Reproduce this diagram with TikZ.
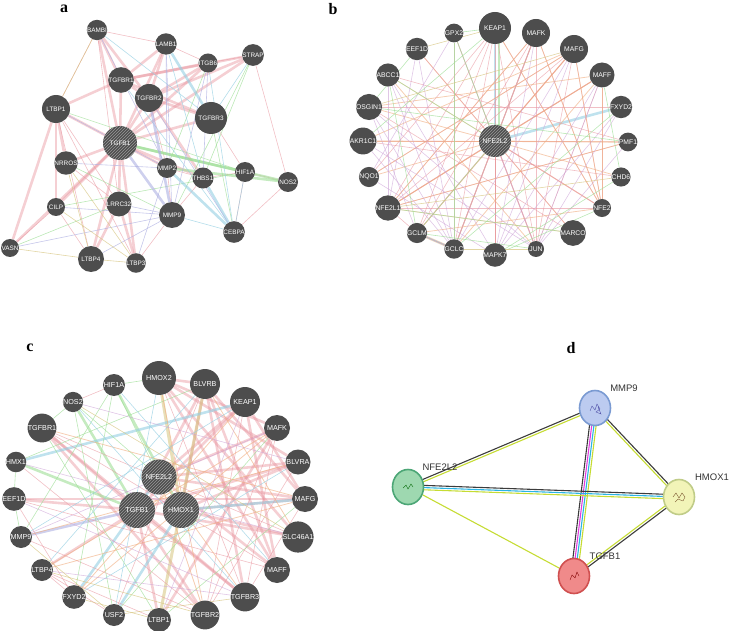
\documentclass[tikz,border=0pt]{standalone}
\usepackage{fontspec}
\setmainfont{Liberation Serif}
\setsansfont{Liberation Sans}
\usetikzlibrary{patterns,backgrounds,calc,shapes.geometric}
\definecolor{gnfill}{HTML}{4D4D4D}
\definecolor{pinkE}{HTML}{E8949E}
\definecolor{blueE}{HTML}{94CFE2}
\definecolor{greenE}{HTML}{9EDE96}
\definecolor{lavE}{HTML}{AEB0E2}
\definecolor{orangeE}{HTML}{F0AE80}
\definecolor{oliveE}{HTML}{D6C47E}
\definecolor{purpleE}{HTML}{CCA2D6}
\definecolor{sYG}{HTML}{C6DC34}
\definecolor{sDk}{HTML}{3C3C3C}
\definecolor{sCy}{HTML}{2CB4E4}
\definecolor{sMg}{HTML}{E03CDC}
\definecolor{mmpF}{HTML}{BCCBF0}
\definecolor{mmpD}{HTML}{7A9AD2}
\definecolor{nfeF}{HTML}{9ED8B0}
\definecolor{nfeD}{HTML}{4CA676}
\definecolor{hmoF}{HTML}{F2F4B8}
\definecolor{hmoD}{HTML}{C0CC88}
\definecolor{tgfF}{HTML}{F08A8A}
\definecolor{tgfD}{HTML}{D05050}
\begin{document}
\begin{tikzpicture}[x=1pt,y=-1pt,
  gn/.style={circle, fill=gnfill, inner sep=0pt, text=white, minimum size=#1},
  gn/.default=18pt,
  hub/.style={gn=#1, postaction={pattern=north east lines, pattern color=black!40}},
  eP/.style={draw=pinkE, line width=2.6pt, opacity=.45},
  ep/.style={draw=pinkE, line width=.6pt, opacity=.6},
  eG/.style={draw=greenE, line width=2.6pt, opacity=.6},
  eg/.style={draw=greenE, line width=.6pt, opacity=.7},
  eB/.style={draw=blueE, line width=2.6pt, opacity=.6},
  eb/.style={draw=blueE, line width=.6pt, opacity=.7},
  eV/.style={draw=lavE, line width=2.6pt, opacity=.6},
  ev/.style={draw=lavE, line width=.6pt, opacity=.7},
  eO/.style={draw=orangeE, line width=2.4pt, opacity=.55},
  eo/.style={draw=orangeE, line width=.8pt, opacity=.6},
  eY/.style={draw=oliveE, line width=3pt, opacity=.55},
  ey/.style={draw=oliveE, line width=.6pt, opacity=.7},
  eu/.style={draw=purpleE, line width=.6pt, opacity=.6},
  plet/.style={font=\bfseries\fontsize{16}{16}\selectfont, inner sep=0pt},
  sn/.style={ellipse, inner sep=0pt, minimum width=31pt, minimum height=35pt, line width=1.6pt},
  sl/.style={font=\sffamily\fontsize{9.5}{10}\selectfont, text=black!80, inner sep=0pt},
  sline/.style={line width=1.1pt}
]
\useasboundingbox (0,0) rectangle (731,631);

% ---------------- panel letters
\node[plet] (la) at (64,9) {a};
\node[plet] (lb) at (333,9) {b};
\node[plet] (lc) at (30,348) {c};
\node[plet] (ld) at (571,348) {d};

% ---------------- panel a
\begin{scope}[font=\sffamily\fontsize{6.4}{6.4}\selectfont]
\node[gn=18pt] (a1) at (97,30) {BAMBI};
\node[gn=20pt] (a2) at (166,44) {LAMB1};
\node[gn=18pt] (a3) at (208,63) {ITGB6};
\node[gn=18pt] (a4) at (253,55) {STRAP};
\node[gn=24pt] (a5) at (121,80) {TGFBR1};
\node[gn=28pt] (a6) at (149,98) {TGFBR2};
\node[gn=28pt] (a7) at (56,109) {LTBP1};
\node[gn=32pt] (a8) at (211,118) {TGFBR3};
\node[hub=34pt] (a9) at (120,143) {TGFB1};
\node[gn=17pt] (a10) at (66,163) {NRROS};
\node[gn=20pt] (a11) at (167,168) {MMP2};
\node[gn=18pt] (a12) at (203,178) {THBS1};
\node[gn=20pt] (a13) at (245,172) {HIF1A};
\node[gn=20pt] (a14) at (288,182) {NOS2};
\node[gn=18pt] (a15) at (56,207) {CILP};
\node[gn=22pt] (a16) at (119,204) {LRRC32};
\node[gn=26pt] (a17) at (172,215) {MMP9};
\node[gn=20pt] (a18) at (234,232) {CEBPA};
\node[gn=18pt] (a19) at (10,248) {VASN};
\node[gn=26pt] (a20) at (91,259) {LTBP4};
\node[gn=18pt] (a21) at (136,263) {LTBP3};
\end{scope}

% ---------------- panel b
\begin{scope}[font=\sffamily\fontsize{6.8}{6.8}\selectfont]
\node[hub=32pt] (b0) at (495,141) {NFE2L2};
\node[gn=32pt] (b1) at (495,28) {KEAP1};
\node[gn=28pt] (b2) at (536,33) {MAFK};
\node[gn=28pt] (b3) at (574,49) {MAFG};
\node[gn=25pt] (b4) at (602,75) {MAFF};
\node[gn=20pt] (b5) at (621,107) {FXYD2};
\node[gn=18pt] (b6) at (628,142) {PMF1};
\node[gn=18pt] (b7) at (621,177) {CHD6};
\node[gn=16pt] (b8) at (602,208) {NFE2};
\node[gn=14pt] (b9) at (573,233) {MARCO};
\node[gn=16pt] (b10) at (536,249) {JUN};
\node[gn=14pt] (b11) at (495,255) {MAPK7};
\node[gn=14pt] (b12) at (454,249) {GCLC};
\node[gn=15pt] (b13) at (417,233) {GCLM};
\node[gn=14pt] (b14) at (388,208) {NFE2L1};
\node[gn=14pt] (b15) at (369,177) {NQO1};
\node[gn=14pt] (b16) at (363,141) {AKR1C1};
\node[gn=14pt] (b17) at (369,107) {OSGIN1};
\node[gn=14pt] (b18) at (388,75) {ABCC1};
\node[gn=14pt] (b19) at (417,49) {EEF1D};
\node[gn=14pt] (b20) at (454,33) {GPX2};
\end{scope}

% ---------------- panel c
\begin{scope}[font=\sffamily\fontsize{7.2}{7.2}\selectfont]
\node[hub=35pt] (c0) at (159,477) {NFE2L2};
\node[hub=36pt] (cT) at (137,510) {TGFB1};
\node[hub=36pt] (cH) at (181,510) {HMOX1};
\node[gn=34pt] (c1) at (159,378) {HMOX2};
\node[gn=30pt] (c2) at (205,384) {BLVRB};
\node[gn=30pt] (c3) at (245,402) {KEAP1};
\node[gn=26pt] (c4) at (277,428) {MAFK};
\node[gn=25pt] (c5) at (298,462) {BLVRA};
\node[gn=26pt] (c6) at (305,499) {MAFG};
\node[gn=24pt] (c7) at (298,537) {SLC46A1};
\node[gn=26pt] (c8) at (277,570) {MAFF};
\node[gn=22pt] (c9) at (245,597) {TGFBR3};
\node[gn=22pt] (c10) at (205,615) {TGFBR2};
\node[gn=24pt] (c11) at (159,620) {LTBP1};
\node[gn=22pt] (c12) at (114,615) {USF2};
\node[gn=22pt] (c13) at (74,597) {FXYD2};
\node[gn=22pt] (c14) at (42,570) {LTBP4};
\node[gn=22pt] (c15) at (21,537) {MMP9};
\node[gn=20pt] (c16) at (14,499) {EEF1D};
\node[gn=20pt] (c17) at (16,462) {HMX1};
\node[gn=21pt] (c18) at (42,428) {TGFBR1};
\node[gn=20pt] (c19) at (73,402) {NOS2};
\node[gn=22pt] (c20) at (114,385) {HIF1A};
\end{scope}

% ---------------- panel d
\node[sn, fill=mmpF, draw=mmpD] (d1) at (595,408) {};
\node[sn, fill=nfeF, draw=nfeD] (d2) at (408,487) {};
\node[sn, fill=hmoF, draw=hmoD] (d3) at (679,497) {};
\node[sn, fill=tgfF, draw=tgfD] (d4) at (574,576) {};
\node[sl] (t1) at (624,388) {MMP9};
\node[sl] (t2) at (440,467) {NFE2L2};
\node[sl] (t3) at (712,477) {HMOX1};
\node[sl] (t4) at (605,556) {TGFB1};
% tiny structure glyphs
\draw[blue!50!black!70, line width=.35pt] (d1.center) ++(-5,3) -- ++(2,-5) -- ++(3,4) -- ++(2,-6) -- ++(3,5) -- ++(-4,3) -- ++(5,2) -- ++(-3,-7);
\draw[green!40!black, line width=.35pt] (d2.center) ++(-5,1) -- ++(3,-3) -- ++(2,4) -- ++(3,-5) -- ++(2,3);
\draw[brown!60!black, line width=.35pt] (d3.center) ++(-6,0) -- ++(3,-4) -- ++(3,5) -- ++(3,-5) -- ++(3,4) -- ++(-2,4) -- ++(-5,-2) -- ++(-3,3);
\draw[red!50!black, line width=.35pt] (d4.center) ++(-4,4) -- ++(2,-5) -- ++(3,3) -- ++(2,-6) -- ++(2,4);

\begin{pgfonlayer}{background}
% ===== panel a edges
\foreach \u/\v in {a9/a1,a9/a2,a9/a5,a9/a6,a9/a7,a9/a20,a9/a21,a9/a16,a9/a10,a9/a15,a9/a8,a9/a3,a9/a4,a9/a19,a5/a4,a6/a4,a5/a3,a6/a3,a1/a5,a1/a6,a2/a6,a2/a5,a5/a6,a6/a8,a7/a19,a7/a15,a7/a10,a16/a21,a16/a20,a9/a12,a9/a11,a5/a8,a7/a5,a6/a12}
  \draw[eP] (\u) -- (\v);
\foreach \u/\v in {a4/a14,a1/a2,a13/a14,a11/a12,a12/a13,a18/a13,a15/a20,a10/a16,a19/a15,a7/a20,a7/a16,a11/a17,a12/a17,a21/a17,a2/a3,a3/a4,a1/a7,a13/a8,a14/a18,a1/a16,a7/a21,a6/a11}
  \draw[ep] (\u) -- (\v);
\foreach \u/\v in {a9/a13,a9/a14,a11/a14}
  \draw[eG] (\u) -- (\v);
\foreach \u/\v in {a4/a17,a3/a11,a15/a13,a8/a18,a4/a12,a7/a13,a19/a16,a10/a17}
  \draw[eg] (\u) -- (\v);
\foreach \u/\v in {a11/a18,a12/a18,a2/a8}
  \draw[eB] (\u) -- (\v);
\foreach \u/\v in {a1/a8,a5/a18,a3/a18,a13/a18,a17/a18,a2/a12,a4/a8}
  \draw[eb] (\u) -- (\v);
\foreach \u/\v in {a9/a17,a6/a17}
  \draw[eV] (\u) -- (\v);
\foreach \u/\v in {a2/a17,a2/a11,a3/a17,a15/a17,a19/a17,a10/a11,a7/a11,a21/a11,a16/a17,a20/a17,a6/a18,a1/a11,a3/a12}
  \draw[ev] (\u) -- (\v);
\foreach \u/\v in {a15/a21,a20/a21,a10/a20,a19/a20,a7/a1,a10/a21}
  \draw[ey] (\u) -- (\v);

% ===== panel b edges
\foreach \i in {2,3,4,6,7,8,9,10,11,12,14,15,16,17,18,19,20}
  \draw[eo] (b0) -- (b\i);
\foreach \i in {2,3,4,8,10,11,12,13,14}
  \draw[ep, line width=1pt] (b0) -- (b\i);
\draw[eB] (b0) -- (b1);
\draw[eG, line width=1.6pt] ([xshift=4pt]b0.center) -- ([xshift=4pt]b1.center);
\draw[eB] (b0) -- (b5);
\draw[eO] (b12) -- (b13);
\draw[eb, line width=1.4pt] (b12) -- (b13);
\foreach \u/\v in {b1/b14,b1/b10,b1/b12,b1/b13,b2/b14,b2/b8,b3/b8,b3/b14,b4/b8,b2/b10,b3/b10,b20/b12,b19/b9,b1/b15,b11/b1,b10/b4,b13/b12,b14/b13,b16/b7,b6/b16,b6/b14,b8/b14,b5/b17,b3/b15,b2/b13,b1/b8,b18/b6,b17/b9}
  \draw[ep] (\u) -- (\v);
\foreach \u/\v in {b2/b14,b3/b15,b4/b14,b2/b8,b3/b13,b4/b12,b1/b8,b18/b10,b14/b6,b3/b16,b4/b17,b8/b13,b4/b8,b3/b8,b2/b12,b14/b9,b16/b6}
  \draw[eo] (\u) -- (\v);
\foreach \u/\v in {b17/b10,b18/b11,b19/b12,b20/b10,b16/b10,b15/b11,b17/b12,b18/b12,b19/b14,b20/b15,b2/b12,b3/b11,b4/b11,b5/b10,b6/b10,b3/b12,b4/b10,b16/b12,b17/b13,b18/b14,b2/b11,b5/b11}
  \draw[eu] (\u) -- (\v);
\foreach \u/\v in {b18/b0,b20/b0,b1/b20,b13/b0,b19/b17,b11/b7,b12/b5,b9/b14,b10/b13,b8/b11,b17/b6,b18/b13,b20/b12,b16/b1,b4/b7}
  \draw[eg] (\u) -- (\v);
\foreach \u/\v in {b19/b1,b17/b3,b14/b7,b12/b10}
  \draw[ey] (\u) -- (\v);

% ===== panel c edges
\foreach \u/\v in {cT/c18,cT/c10,cT/c9,cT/c11,cT/c14,cT/c16,cH/c2,cH/c5,c1/c2,c1/c5,c0/c3,c0/c4,c0/c6,c0/c8,cH/c7,c18/c10,c18/c9,c2/c8,c2/c6,c3/c6,c1/c4,cH/c6,c5/cT,c2/cT,c6/c16,c7/cT,cT/c3,c1/c7,c0/c5,c2/c9,c3/c8,c4/c11,c1/c8}
  \draw[eP] (\u) -- (\v);
\foreach \u/\v in {c20/cH,c19/cT,c17/cT}
  \draw[eG] (\u) -- (\v);
\foreach \u/\v in {c1/cH,c2/c11}
  \draw[eY] (\u) -- (\v);
\foreach \u/\v in {c12/cH,c13/c0,c3/c17,c6/cH}
  \draw[eB] (\u) -- (\v);
\draw[eV] (c15) -- (cT);
\foreach \u/\v in {c18/c8,c18/c7,c4/c10,c5/c10,c6/c9,c3/c10,c2/c12,c1/c9,c4/c9,c16/c8,c14/c13,c14/c12,c14/c11,c15/c10,c16/c13,c17/c10,c19/c20}
  \draw[ep] (\u) -- (\v);
\foreach \u/\v in {c20/c0,c20/c1,c19/c0,c18/c19,c17/c16,c16/c15,c15/c20,c13/c20,c11/c6,c17/c2,c12/c4,c18/c11,c19/c12}
  \draw[eg] (\u) -- (\v);
\foreach \u/\v in {c0/c9,c0/c10,c1/c10,c2/c7,c4/c14,c5/c15,c3/c13,c18/c6,c6/c14,c4/c13}
  \draw[eo] (\u) -- (\v);
\foreach \u/\v in {c20/c8,c19/c9,c1/c12,c2/c14,c3/c15,c5/c13}
  \draw[eb] (\u) -- (\v);
\foreach \u/\v in {c16/c9,c17/c7,c15/c4,c14/c9,c11/c3,c19/c5}
  \draw[eu] (\u) -- (\v);
\foreach \u/\v in {c14/c10,c13/c11,c12/c9,c15/c12,c19/c7}
  \draw[ey] (\u) -- (\v);

% ===== panel d edges
\draw[sline, sYG] ($(d1)!1.2pt!90:(d2)$) -- ($(d2)!1.2pt!-90:(d1)$);
\draw[sline, sDk] ($(d1)!1.2pt!-90:(d2)$) -- ($(d2)!1.2pt!90:(d1)$);
\draw[sline, sDk] ($(d1)!1.2pt!90:(d3)$) -- ($(d3)!1.2pt!-90:(d1)$);
\draw[sline, sYG] ($(d1)!1.2pt!-90:(d3)$) -- ($(d3)!1.2pt!90:(d1)$);
\draw[sline, sDk] ($(d1)!-3.3pt!90:(d4)$) -- ($(d4)!-3.3pt!-90:(d1)$);
\draw[sline, sMg] ($(d1)!-1.1pt!90:(d4)$) -- ($(d4)!-1.1pt!-90:(d1)$);
\draw[sline, sCy] ($(d1)!1.1pt!90:(d4)$) -- ($(d4)!1.1pt!-90:(d1)$);
\draw[sline, sYG] ($(d1)!3.3pt!90:(d4)$) -- ($(d4)!3.3pt!-90:(d1)$);
\draw[sline, sYG] ($(d2)!-2.2pt!90:(d3)$) -- ($(d3)!-2.2pt!-90:(d2)$);
\draw[sline, sCy] ($(d2)!0pt!90:(d3)$) -- ($(d3)!0pt!-90:(d2)$);
\draw[sline, sDk] ($(d2)!2.2pt!90:(d3)$) -- ($(d3)!2.2pt!-90:(d2)$);
\draw[sline, sYG] (d2) -- (d4);
\draw[sline, sYG] ($(d3)!1.2pt!-90:(d4)$) -- ($(d4)!1.2pt!90:(d3)$);
\draw[sline, sDk] ($(d3)!1.2pt!90:(d4)$) -- ($(d4)!1.2pt!-90:(d3)$);
\end{pgfonlayer}
\end{tikzpicture}
\end{document}
